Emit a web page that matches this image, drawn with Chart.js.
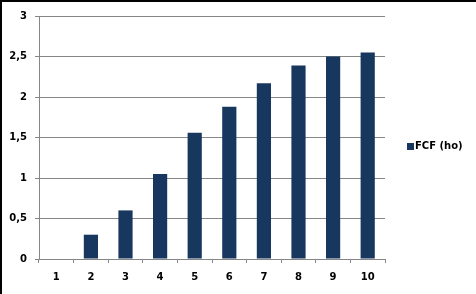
<!DOCTYPE html>
<html>
<head>
<meta charset="utf-8">
<script src="https://cdn.jsdelivr.net/npm/chart.js@4/dist/chart.umd.min.js"></script>
<style>
  html, body { margin: 0; padding: 0; background: #fff; }
  #wrap { width: 474px; height: 292px; border-left: 2px solid #000; border-top: 2px solid #000; }
</style>
</head>
<body>
<div id="wrap"><canvas id="chart" width="474" height="292"></canvas></div>
<script>
const categories = ['1', '2', '3', '4', '5', '6', '7', '8', '9', '10'];
const fcfValues = [0, 0.3, 0.6, 1.05, 1.56, 1.88, 2.17, 2.39, 2.5, 2.55];
const seriesLabel = 'FCF (ho)';
const barColor = '#17375E';
const gridColor = '#868686';
const labelFont = { family: 'DejaVu Sans', size: 10, weight: 'bold' };

// 自訂圖例：方塊緊貼文字，放在繪圖區右側
const sideLegend = {
    id: 'sideLegend',
    afterDraw(chart) {
        const ctx = chart.ctx;
        const area = chart.chartArea;
        const ds = chart.data.datasets[0];
        const x = area.right + 22;
        const y = (area.top + area.bottom) / 2 + 9;
        ctx.save();
        ctx.fillStyle = ds.backgroundColor;
        ctx.fillRect(x, y - 3.5, 7, 7);
        ctx.fillStyle = '#000';
        ctx.font = 'bold 10px "DejaVu Sans"';
        ctx.textBaseline = 'middle';
        ctx.fillText(ds.label, x + 8, y);
        ctx.restore();
    }
};

new Chart(document.getElementById('chart').getContext('2d'), {
    type: 'bar',
    data: {
        labels: categories,
        datasets: [{
            label: seriesLabel,
            data: fcfValues,
            backgroundColor: barColor,
            borderWidth: 0,
            categoryPercentage: 1,
            barPercentage: 0.41
        }]
    },
    options: {
        responsive: false,
        animation: false,
        layout: { padding: { top: 13, right: 91, left: 0, bottom: 0 } },
        plugins: { legend: { display: false }, tooltip: { enabled: false } },
        scales: {
            x: {
                grid: { drawOnChartArea: false, drawTicks: true, tickLength: 4, color: gridColor },
                border: { color: gridColor },
                ticks: { color: '#000', font: labelFont, padding: 8 },
                afterFit: s => { s.height = 35; }
            },
            y: {
                min: 0,
                max: 3,
                grid: { color: gridColor, tickLength: 4 },
                border: { color: gridColor },
                ticks: {
                    stepSize: 0.5,
                    color: '#000',
                    font: labelFont,
                    padding: 8,
                    callback: v => String(v).replace('.', ',')
                },
                afterFit: s => { s.width = 37; }
            }
        }
    },
    plugins: [sideLegend]
});
</script>
</body>
</html>
